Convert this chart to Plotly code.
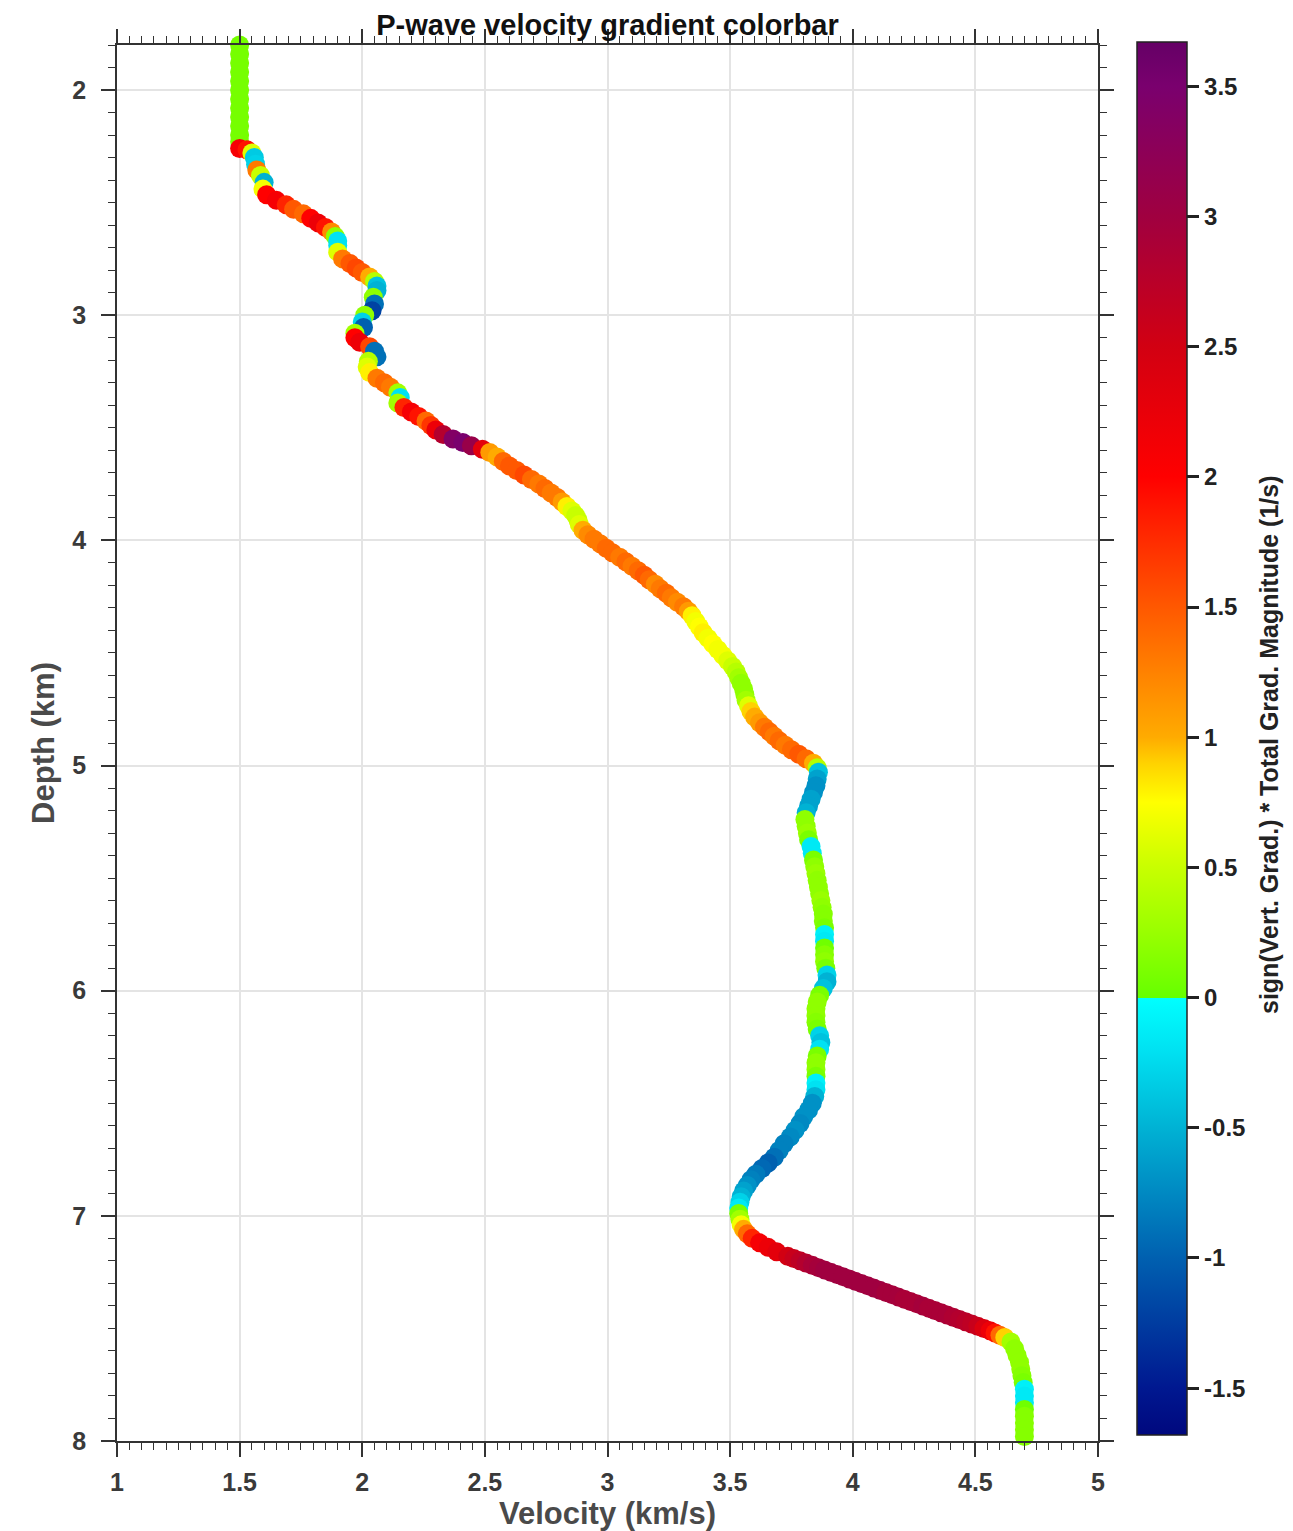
import plotly.graph_objects as go

# ---------------- data ----------------
depth_km = [
    1.80, 1.84, 1.88, 1.92, 1.96, 2.00, 2.04, 2.08, 2.12, 2.16, 2.20, 2.23,
    2.26, 2.265, 2.28, 2.30, 2.33, 2.355, 2.38, 2.41, 2.44, 2.465, 2.49, 2.51,
    2.53, 2.55, 2.57, 2.59, 2.61, 2.63, 2.65, 2.67, 2.69, 2.72, 2.75, 2.77,
    2.79, 2.81, 2.83, 2.85, 2.87, 2.89, 2.92, 2.95, 2.98, 3.00, 3.03, 3.055,
    3.08, 3.10, 3.12, 3.14, 3.16, 3.185, 3.205, 3.23, 3.255, 3.28, 3.30, 3.32,
    3.345, 3.365, 3.39, 3.41, 3.43, 3.45, 3.47, 3.49, 3.51, 3.53, 3.55, 3.565,
    3.58, 3.595, 3.61, 3.63, 3.65, 3.67, 3.69, 3.71, 3.73, 3.75, 3.77, 3.79,
    3.81, 3.83, 3.85, 3.87, 3.89, 3.91, 3.93, 3.955, 3.975, 3.995, 4.015, 4.035,
    4.055, 4.075, 4.095, 4.115, 4.135, 4.155, 4.175, 4.195, 4.215, 4.235, 4.255, 4.275,
    4.295, 4.315, 4.335, 4.36, 4.385, 4.41, 4.435, 4.46, 4.485, 4.51, 4.535, 4.56,
    4.585, 4.61, 4.635, 4.66, 4.685, 4.71, 4.735, 4.76, 4.785, 4.81, 4.83, 4.85,
    4.87, 4.89, 4.91, 4.93, 4.95, 4.97, 4.99, 5.01, 5.03, 5.06, 5.09, 5.12,
    5.15, 5.18, 5.21, 5.24, 5.27, 5.30, 5.33, 5.36, 5.39, 5.42, 5.45, 5.48,
    5.51, 5.54, 5.57, 5.60, 5.63, 5.66, 5.69, 5.72, 5.75, 5.78, 5.81, 5.84,
    5.87, 5.90, 5.93, 5.96, 5.99, 6.02, 6.05, 6.08, 6.11, 6.14, 6.17, 6.20,
    6.23, 6.26, 6.29, 6.32, 6.35, 6.38, 6.41, 6.44, 6.47, 6.50, 6.53, 6.56,
    6.59, 6.62, 6.65, 6.68, 6.71, 6.74, 6.765, 6.79, 6.815, 6.84, 6.865, 6.89,
    6.915, 6.94, 6.965, 6.99, 7.015, 7.04, 7.06, 7.08, 7.10, 7.12, 7.14, 7.16,
    7.18, 7.19, 7.20, 7.21, 7.22, 7.23, 7.24, 7.25, 7.26, 7.27, 7.28, 7.29,
    7.30, 7.31, 7.32, 7.33, 7.34, 7.35, 7.36, 7.37, 7.38, 7.39, 7.40, 7.41,
    7.42, 7.43, 7.44, 7.45, 7.46, 7.47, 7.48, 7.49, 7.50, 7.51, 7.52, 7.53,
    7.54, 7.56, 7.59, 7.62, 7.65, 7.68, 7.71, 7.74, 7.77, 7.80, 7.83, 7.86,
    7.89, 7.92, 7.95, 7.98, 8.01,
]

velocity_kms = [
    1.50, 1.50, 1.50, 1.50, 1.50, 1.50, 1.50, 1.50, 1.50, 1.50, 1.50, 1.50,
    1.50, 1.53, 1.55, 1.56, 1.565, 1.57, 1.585, 1.60, 1.595, 1.61, 1.65, 1.69,
    1.72, 1.76, 1.79, 1.82, 1.85, 1.875, 1.89, 1.90, 1.90, 1.90, 1.92, 1.95,
    1.975, 2.00, 2.03, 2.05, 2.06, 2.06, 2.045, 2.05, 2.04, 2.01, 2.00, 2.005,
    1.97, 1.97, 1.99, 2.03, 2.05, 2.06, 2.025, 2.02, 2.03, 2.06, 2.09, 2.115,
    2.145, 2.155, 2.145, 2.17, 2.20, 2.23, 2.26, 2.28, 2.30, 2.33, 2.37, 2.41,
    2.445, 2.49, 2.52, 2.55, 2.575, 2.60, 2.63, 2.66, 2.69, 2.72, 2.745, 2.77,
    2.795, 2.815, 2.835, 2.855, 2.87, 2.88, 2.885, 2.90, 2.92, 2.945, 2.97, 2.995,
    3.02, 3.05, 3.075, 3.10, 3.125, 3.15, 3.17, 3.195, 3.215, 3.24, 3.26, 3.285,
    3.31, 3.33, 3.345, 3.36, 3.375, 3.39, 3.41, 3.43, 3.45, 3.47, 3.49, 3.51,
    3.525, 3.535, 3.545, 3.555, 3.56, 3.565, 3.575, 3.585, 3.60, 3.62, 3.64, 3.66,
    3.68, 3.70, 3.725, 3.75, 3.78, 3.81, 3.84, 3.855, 3.86, 3.855, 3.85, 3.84,
    3.83, 3.82, 3.81, 3.805, 3.81, 3.815, 3.82, 3.83, 3.835, 3.84, 3.845, 3.85,
    3.855, 3.86, 3.865, 3.87, 3.875, 3.88, 3.88, 3.885, 3.885, 3.885, 3.885, 3.885,
    3.885, 3.89, 3.895, 3.895, 3.88, 3.865, 3.855, 3.85, 3.85, 3.85, 3.855, 3.865,
    3.87, 3.865, 3.855, 3.85, 3.85, 3.85, 3.85, 3.85, 3.845, 3.835, 3.82, 3.80,
    3.785, 3.765, 3.745, 3.72, 3.70, 3.68, 3.655, 3.63, 3.605, 3.585, 3.57, 3.555,
    3.545, 3.54, 3.535, 3.535, 3.54, 3.545, 3.555, 3.57, 3.59, 3.62, 3.655, 3.69,
    3.735, 3.76, 3.785, 3.81, 3.835, 3.86, 3.885, 3.91, 3.935, 3.96, 3.985, 4.01,
    4.035, 4.06, 4.085, 4.11, 4.135, 4.16, 4.185, 4.21, 4.235, 4.26, 4.285, 4.31,
    4.335, 4.36, 4.385, 4.41, 4.435, 4.46, 4.485, 4.51, 4.535, 4.56, 4.58, 4.60,
    4.62, 4.645, 4.66, 4.67, 4.68, 4.685, 4.69, 4.695, 4.70, 4.70, 4.70, 4.70,
    4.70, 4.70, 4.70, 4.70, 4.70,
]

grad_value = [
    0.08, 0.08, 0.08, 0.08, 0.08, 0.08, 0.08, 0.08, 0.08, 0.08, 0.08, 0.08,
    2.1, 1.9, 0.6, -0.35, -0.3, 1.3, 0.5, -0.5, 0.7, 2.0, 2.1, 1.8,
    1.5, 1.4, 2.0, 2.2, 1.9, 1.2, 0.2, -0.2, -0.2, 0.6, 1.3, 1.5,
    1.6, 1.5, 1.0, 0.4, -0.4, -0.5, 0.2, -0.9, -1.2, 0.2, -0.3, -1.0,
    0.3, 2.0, 2.2, 1.6, -0.9, -0.9, 0.4, 0.6, 0.8, 1.3, 1.4, 1.3,
    0.3, -0.2, 0.3, 1.8, 2.1, 1.9, 1.4, 1.7, 2.2, 2.8, 3.4, 3.5,
    3.1, 2.3, 1.1, 1.0, 1.4, 1.5, 1.5, 1.6, 1.4, 1.3, 1.4, 1.3,
    1.3, 1.1, 0.8, 0.6, 0.5, 0.5, 0.6, 1.0, 1.2, 1.3, 1.3, 1.4,
    1.4, 1.3, 1.4, 1.3, 1.4, 1.5, 1.4, 1.2, 1.3, 1.4, 1.3, 1.2,
    1.3, 1.1, 0.8, 0.7, 0.75, 0.8, 0.7, 0.75, 0.7, 0.7, 0.6, 0.5,
    0.4, 0.3, 0.2, 0.2, 0.2, 0.3, 0.6, 0.9, 1.0, 1.1, 1.3, 1.4,
    1.3, 1.4, 1.3, 1.4, 1.5, 1.4, 1.0, 0.4, -0.4, -0.6, -0.7, -0.7,
    -0.6, -0.6, -0.5, 0.2, 0.2, 0.25, 0.1, -0.15, -0.15, 0.1, 0.2, 0.25,
    0.2, 0.2, 0.2, 0.25, 0.2, 0.15, 0.15, 0.1, -0.1, -0.15, 0.05, 0.15,
    0.2, 0.1, -0.3, -0.5, -0.4, 0.1, 0.2, 0.2, 0.2, 0.15, 0.1, -0.3,
    -0.4, -0.2, 0.1, 0.2, 0.2, 0.1, -0.1, -0.2, -0.5, -0.7, -0.7, -0.7,
    -0.75, -0.7, -0.75, -0.8, -0.8, -0.9, -1.0, -0.95, -0.85, -0.8, -0.7, -0.6,
    -0.5, -0.3, -0.15, 0.1, 0.3, 0.7, 1.0, 1.4, 1.8, 2.1, 2.2, 2.3,
    2.5, 2.6, 2.7, 2.8, 2.9, 2.95, 3.0, 3.0, 3.0, 3.0, 3.0, 3.0,
    3.0, 3.0, 3.0, 3.0, 2.95, 2.95, 2.95, 2.9, 2.9, 2.9, 2.95, 2.9,
    2.9, 2.9, 2.9, 2.85, 2.8, 2.75, 2.7, 2.6, 2.4, 2.2, 1.9, 1.4,
    0.9, 0.3, 0.2, 0.2, 0.2, 0.2, 0.15, 0.1, -0.1, -0.15, -0.15, 0.05,
    0.15, 0.15, 0.15, 0.15, 0.15,
]

x_ticks = [1, 1.5, 2, 2.5, 3, 3.5, 4, 4.5, 5]
x_tick_labels = ["1", "1.5", "2", "2.5", "3", "3.5", "4", "4.5", "5"]
y_ticks = [2, 3, 4, 5, 6, 7, 8]
cb_ticks = [-1.5, -1, -0.5, 0, 0.5, 1, 1.5, 2, 2.5, 3, 3.5]
cb_tick_labels = ["-1.5", "-1", "-0.5", "0", "0.5", "1", "1.5", "2", "2.5", "3", "3.5"]

# colour map anchors (value -> colour), with a jump at zero
c_min, c_max = -1.68, 3.67
cmap_values = [-1.68, -1.5, -1.0, -0.5, -0.2, 0.0, 0.0, 0.25, 0.5, 0.75, 0.9, 1.0,
               1.2, 1.5, 1.8, 2.0, 2.5, 3.0, 3.5, 3.67]
cmap_colors = ["#00087e", "#001890", "#0060b0", "#00b2d4", "#00e2f2", "#00ffff",
               "#66ff00", "#99ff00", "#c8ff00", "#ffff00", "#ffd200", "#ffab00",
               "#ff8a00", "#ff5800", "#ff2400", "#ff0000", "#d20012", "#a00040",
               "#7a006e", "#650066"]

colorscale = [[(v - c_min) / (c_max - c_min), c] for v, c in zip(cmap_values, cmap_colors)]
colorscale[0][0] = 0.0
colorscale[-1][0] = 1.0

# ---------------- figure ----------------
# (page body adds an 8 px offset, figure pixel = page pixel - 8)
W, H = 1293, 1531
ML, MR, MT, MB = 109, 203, 37, 98
plot_w = W - ML - MR
plot_h = H - MT - MB

FONT = "Liberation Sans, Arial, sans-serif"
AX = "#333333"

fig = go.Figure()
fig.add_trace(go.Scatter(
    x=velocity_kms, y=depth_km, mode="markers",
    cliponaxis=False,
    marker=dict(
        size=19, color=grad_value, colorscale=colorscale, cmin=c_min, cmax=c_max,
        line=dict(width=0), opacity=1,
        colorbar=dict(
            x=(1129 - ML) / plot_w, xanchor="left", xpad=0,
            y=1 + (MT - 34) / plot_h, yanchor="top", ypad=0,
            lenmode="pixels", len=1393, thickness=50, thicknessmode="pixels",
            outlinewidth=1.5, outlinecolor="#222222",
            tickmode="array", tickvals=cb_ticks, ticktext=cb_tick_labels,
            ticks="outside", ticklen=12, tickwidth=2.5, tickcolor="#222222",
            tickfont=dict(family=FONT, size=24, color="#222222", weight="bold"),
        ),
    ),
    showlegend=False, hoverinfo="x+y",
))

fig.update_layout(
    width=W, height=H,
    margin=dict(l=ML, r=MR, t=MT, b=MB, autoexpand=False),
    paper_bgcolor="white", plot_bgcolor="white",
    title=dict(text="P-wave velocity gradient colorbar", x=0.5, xref="paper",
               xanchor="center", y=1 - 17 / H, yanchor="middle",
               font=dict(family=FONT, size=29, color="#111111", weight="bold")),
    annotations=[dict(
        text="sign(Vert. Grad.) * Total Grad. Magnitude (1/s)",
        textangle=-90, xref="paper", yref="paper",
        x=(1261 - ML) / plot_w, y=(H - MB - 737) / plot_h,
        xanchor="center", yanchor="middle", showarrow=False,
        font=dict(family=FONT, size=25, color="#222222", weight="bold"),
    )],
)

fig.update_xaxes(
    range=[1, 5], tickmode="array", tickvals=x_ticks, ticktext=x_tick_labels,
    showline=True, linecolor=AX, linewidth=1.5, mirror="allticks",
    ticks="outside", ticklen=14, tickwidth=1.5, tickcolor=AX, ticklabelstandoff=4,
    minor=dict(dtick=0.05, ticks="outside", ticklen=7, tickwidth=1.2, tickcolor=AX, showgrid=False),
    showgrid=True, gridcolor="#e4e4e4", gridwidth=1.5, zeroline=False,
    tickfont=dict(family=FONT, size=25, color="#3a3a3a", weight="bold"),
    title=dict(text="Velocity (km/s)", standoff=2,
               font=dict(family=FONT, size=31, color="#4a4a4a", weight="bold")),
)
fig.update_yaxes(
    range=[8, 1.8], tickmode="array", tickvals=y_ticks,
    showline=True, linecolor=AX, linewidth=1.5, mirror="allticks",
    ticks="outside", ticklen=14, tickwidth=1.5, tickcolor=AX, ticklabelstandoff=10,
    minor=dict(dtick=0.1, ticks="outside", ticklen=7, tickwidth=1.2, tickcolor=AX, showgrid=False),
    showgrid=True, gridcolor="#e4e4e4", gridwidth=1.5, zeroline=False,
    tickfont=dict(family=FONT, size=25, color="#3a3a3a", weight="bold"),
    title=dict(text="Depth (km)", standoff=8,
               font=dict(family=FONT, size=31, color="#4a4a4a", weight="bold")),
)

fig.write_html("out.html")
